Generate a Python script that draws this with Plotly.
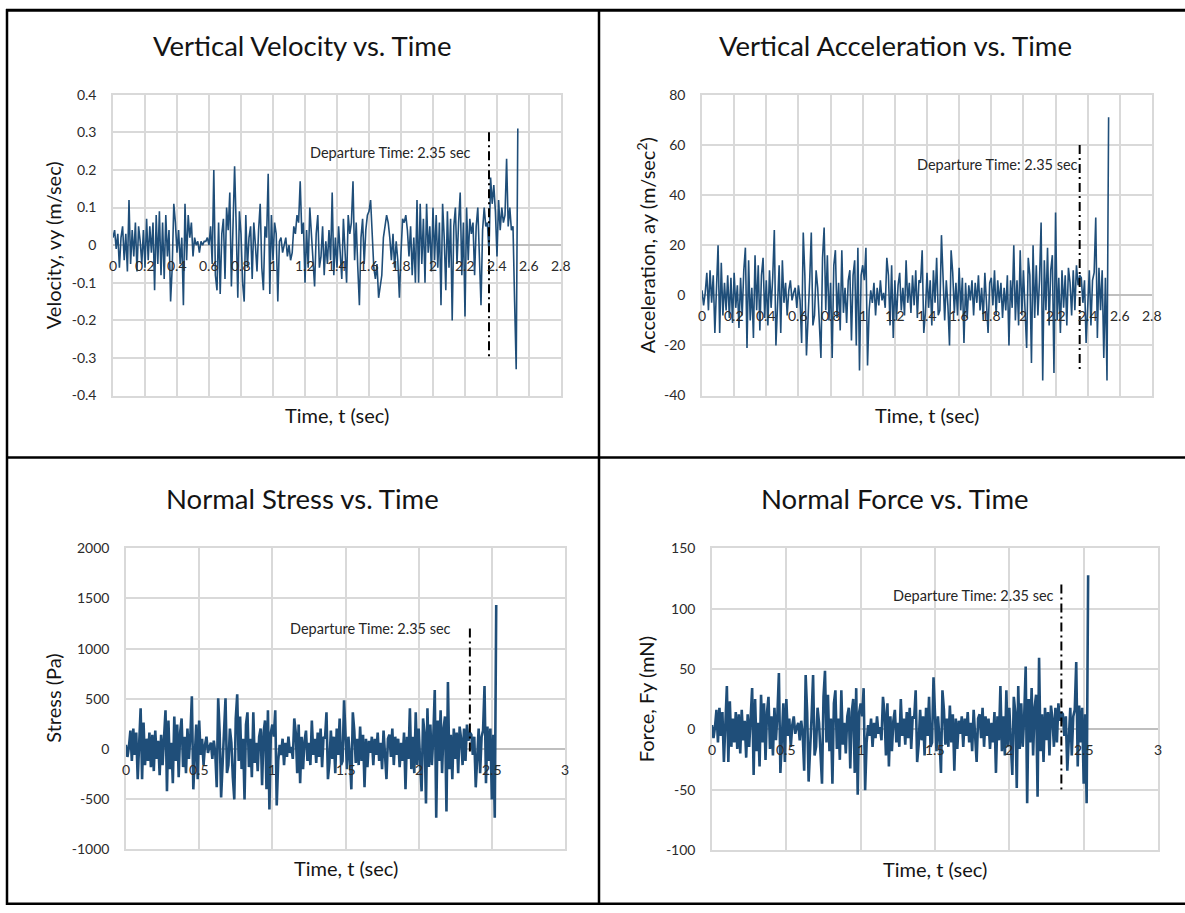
import plotly.graph_objects as go

W, H = 1185, 913

# ---------------------------------------------------------------- data
SAMPLE_DT = 0.01          # s between samples
N_SAMPLES = 254
time_s = [round(i * SAMPLE_DT, 2) for i in range(N_SAMPLES)]

# vertical velocity, m/s (one row = 0.1 s)
velocity = [
    0.02, 0.04, -0.01, 0.03, -0.06, 0.02, 0.05, -0.04, 0.03, -0.07,
    0.12, -0.05, 0.04, -0.03, 0.06, -0.07, 0.05, 0.01, -0.05, 0.04,
    -0.06, 0.07, -0.04, 0.05, -0.02, 0.06, -0.12, 0.08, -0.05, 0.09,
    -0.08, 0.06, -0.09, 0.08, -0.03, 0.04, -0.15, -0.06, 0.11, 0.06,
    -0.02, 0.04, -0.05, 0.02, -0.16, 0.11, -0.04, 0.08, 0.02, 0.06,
    -0.03, 0.02, 0.0, 0.01, -0.02, 0.01, 0.0, 0.01, 0.01, 0.02,
    0.0, 0.05, -0.05, 0.20, -0.08, -0.12, 0.06, -0.13, 0.03, 0.07,
    -0.09, 0.10, 0.04, 0.14, -0.11, 0.06, 0.21, 0.05, -0.14, 0.09,
    0.03, -0.10, -0.15, 0.08, -0.06, 0.02, 0.05, -0.09, 0.06, 0.0,
    -0.07, 0.04, 0.11, -0.06, -0.12, 0.05, 0.02, 0.19, -0.13, 0.08,
    -0.04, 0.06, 0.03, -0.15, 0.01, 0.02, -0.02, 0.0, 0.02, -0.03,
    0.0, -0.04, -0.02, 0.05, 0.03, 0.08, 0.06, 0.17, 0.03, 0.06,
    -0.10, 0.04, -0.06, 0.10, 0.02, -0.05, -0.11, 0.03, 0.08, -0.06,
    -0.03, 0.05, -0.08, 0.01, -0.05, 0.04, -0.04, 0.14, -0.08, 0.02,
    -0.06, 0.05, -0.03, -0.09, 0.07, -0.02, -0.10, 0.08, 0.03, 0.06,
    0.17, -0.04, 0.06, -0.06, -0.16, 0.02, 0.07, -0.05, 0.04, 0.08,
    0.09, 0.12, 0.04, -0.06, -0.09, -0.05, -0.14, -0.11, -0.08, 0.02,
    0.05, 0.08, 0.06, 0.02, -0.04, 0.03, -0.06, 0.01, -0.04, -0.14,
    -0.02, 0.07, 0.06, 0.08, 0.04, -0.03, 0.05, -0.08, 0.02, -0.10,
    0.12, -0.10, 0.11, -0.05, 0.07, -0.10, 0.11, -0.02, 0.05, -0.07,
    0.10, -0.04, 0.08, -0.06, 0.06, -0.16, 0.11, 0.02, -0.12, 0.09,
    -0.06, 0.07, -0.20, 0.05, 0.10, -0.05, 0.06, 0.14, -0.08, 0.06,
    -0.19, 0.10, -0.04, 0.07, 0.03, 0.06, -0.08, 0.05, 0.10, -0.06,
    -0.16, 0.04, 0.10, 0.05, 0.06, -0.02, 0.18, 0.11, 0.16, 0.09,
    -0.03, 0.12, 0.04, 0.10, 0.06, 0.08, 0.23, 0.05, 0.10, 0.04,
    0.05, -0.15, -0.33, 0.31,
]

# vertical acceleration, m/s^2
acceleration = [
    2, -4, 1, 9, -6, 10, -3, 8, -15, 7,
    20, -15, 13, -8, 5, -6, 8, -9, 7, -11,
    9, -5, 4, -13, 7, -8, 10, 19, -21, 14,
    -10, 3, -17, 16, -6, 12, -14, 8, 15, -9,
    6, -12, 10, -5, 7, 26, -20, -4, 12, -15,
    14, -3, 5, -8, 2, 6, -2, 1, 3, -5,
    4, -2, -19, 25, 8, -24, -10, 6, 25, -12,
    -8, 10, 3, -14, -25, 15, 27, -6, 16, -10,
    5, -25, 12, 18, -9, 5, -14, 18, -7, 3,
    -11, 6, 10, -18, 8, 14, -20, 19, -30, 8,
    12, 6, 19, -28, -6, 2, -3, 5, -8, 3,
    -4, 6, -2, 1, -5, 15, 8, -12, 12, -17,
    6, -10, 4, 9, -6, 3, -8, 14, -3, 5,
    -7, 8, -4, 10, -9, 6, 5, 18, -15, -7,
    9, -5, 6, -12, 10, -3, 15, -8, -6, 24,
    8, -10, 6, -4, -20, 18, 9, -7, 5, -8,
    11, -6, 7, -19, 5, -9, 4, -2, 6, -8,
    5, -3, 8, -6, 3, -10, 9, -4, -15, 5,
    7, -4, 10, -8, 6, -3, 5, -9, 3, -6,
    8, -20, 6, -5, 20, -10, 6, -12, 18, -8,
    10, -6, -21, 15, 8, -27, 20, -9, 12, -8,
    6, 29, -34, 14, -6, 19, -12, 10, 16, -31,
    33, -10, 7, -15, 10, -5, 8, -12, 11, 5,
    -8, 10, -6, 12, 4, 8, 7, -3, 6, -19,
    -5, 10, -12, 6, 9, 31, -17, 11, -6, 10,
    -25, 7, -34, 71,
]

# normal stress, Pa
stress = [
    40, -81, 20, 182, -121, 202, -61, 162, -303, 141,
    404, -303, 263, -162, 101, -121, 162, -182, 141, -222,
    182, -101, 81, -263, 141, -162, 202, 384, -424, 283,
    -202, 61, -343, 323, -121, 242, -283, 162, 303, -182,
    121, -242, 202, -101, 141, 525, -404, -81, 242, -303,
    283, -61, 101, -162, 40, 121, -40, 20, 61, -101,
    81, -40, -384, 505, 162, -485, -202, 121, 505, -242,
    -162, 202, 61, -283, -505, 303, 545, -121, 323, -202,
    101, -505, 242, 364, -182, 101, -283, 364, -141, 61,
    -222, 121, 202, -364, 162, 283, -404, 384, -606, 162,
    242, 121, 384, -566, -121, 40, -61, 101, -162, 61,
    -81, 121, -40, 20, -101, 303, 162, -242, 242, -343,
    121, -202, 81, 182, -121, 61, -162, 283, -61, 101,
    -141, 162, -81, 202, -182, 121, 101, 364, -303, -141,
    182, -101, 121, -242, 202, -61, 303, -162, -121, 485,
    162, -202, 121, -81, -404, 364, 182, -141, 101, -162,
    222, -121, 141, -384, 101, -182, 81, -40, 121, -162,
    101, -61, 162, -121, 61, -202, 182, -81, -303, 101,
    141, -81, 202, -162, 121, -61, 101, -182, 61, -121,
    162, -404, 121, -101, 404, -202, 121, -242, 364, -162,
    202, -121, -424, 303, 162, -545, 404, -182, 242, -162,
    121, 586, -687, 283, -121, 384, -242, 202, 323, -626,
    667, -202, 141, -303, 202, -101, 162, -242, 222, 101,
    -162, 202, -121, 242, 81, 162, 141, -61, 121, -384,
    -101, 202, -242, 121, 182, 626, -343, 222, -121, 202,
    -505, 141, -687, 1434,
]

# normal force, mN
force = [
    3.6, -7.2, 1.8, 16.2, -10.8, 18, -5.4, 14.4, -27, 12.6,
    36, -27, 23.4, -14.4, 9, -10.8, 14.4, -16.2, 12.6, -19.8,
    16.2, -9, 7.2, -23.4, 12.6, -14.4, 18, 34.2, -37.8, 25.2,
    -18, 5.4, -30.6, 28.8, -10.8, 21.6, -25.2, 14.4, 27, -16.2,
    10.8, -21.6, 18, -9, 12.6, 46.8, -36, -7.2, 21.6, -27,
    25.2, -5.4, 9, -14.4, 3.6, 10.8, -3.6, 1.8, 5.4, -9,
    7.2, -3.6, -34.2, 45, 14.4, -43.2, -18, 10.8, 45, -21.6,
    -14.4, 18, 5.4, -25.2, -45, 27, 48.6, -10.8, 28.8, -18,
    9, -45, 21.6, 32.4, -16.2, 9, -25.2, 32.4, -12.6, 5.4,
    -19.8, 10.8, 18, -32.4, 14.4, 25.2, -36, 34.2, -54, 14.4,
    21.6, 10.8, 34.2, -50.4, -10.8, 3.6, -5.4, 9, -14.4, 5.4,
    -7.2, 10.8, -3.6, 1.8, -9, 27, 14.4, -21.6, 21.6, -30.6,
    10.8, -18, 7.2, 16.2, -10.8, 5.4, -14.4, 25.2, -5.4, 9,
    -12.6, 14.4, -7.2, 18, -16.2, 10.8, 9, 32.4, -27, -12.6,
    16.2, -9, 10.8, -21.6, 18, -5.4, 27, -14.4, -10.8, 43.2,
    14.4, -18, 10.8, -7.2, -36, 32.4, 16.2, -12.6, 9, -14.4,
    19.8, -10.8, 12.6, -34.2, 9, -16.2, 7.2, -3.6, 10.8, -14.4,
    9, -5.4, 14.4, -10.8, 5.4, -18, 16.2, -7.2, -27, 9,
    12.6, -7.2, 18, -14.4, 10.8, -5.4, 9, -16.2, 5.4, -10.8,
    14.4, -36, 10.8, -9, 36, -18, 10.8, -21.6, 32.4, -14.4,
    18, -10.8, -37.8, 27, 14.4, -48.6, 36, -16.2, 21.6, -14.4,
    10.8, 52.2, -61.2, 25.2, -10.8, 34.2, -21.6, 18, 28.8, -55.8,
    59.4, -18, 12.6, -27, 18, -9, 14.4, -21.6, 19.8, 9,
    -14.4, 18, -10.8, 21.6, 7.2, 14.4, 12.6, -5.4, 10.8, -34.2,
    -9, 18, -21.6, 10.8, 16.2, 55.8, -30.6, 19.8, -10.8, 18,
    -45, 12.6, -61.2, 127.8,
]

departure_time = 2.35
departure_label = "Departure Time: 2.35 sec"

# extent of the departure marker on each chart
departure_velocity = [0.3, -0.3]
departure_acceleration = [60, -30]
departure_stress = [1200, -50]
departure_force = [120, -50]

velocity_yticks = [-0.4, -0.3, -0.2, -0.1, 0, 0.1, 0.2, 0.3, 0.4]
acceleration_yticks = [-40, -20, 0, 20, 40, 60, 80]
stress_yticks = [-1000, -500, 0, 500, 1000, 1500, 2000]
force_yticks = [-100, -50, 0, 50, 100, 150]
fine_xticks = [0, 0.2, 0.4, 0.6, 0.8, 1, 1.2, 1.4, 1.6, 1.8, 2, 2.2, 2.4, 2.6, 2.8]
coarse_xticks = [0, 0.5, 1, 1.5, 2, 2.5, 3]

# ---------------------------------------------------------------- style
FONT = "Lato, 'Open Sans', sans-serif"
SERIES_COLOR = "#1F4E79"
GRID = "#D9D9D9"
AXIS0 = "#BFBFBF"
TICK_COLOR = "#2B2B2B"
TEXT = "#141414"


def fmt(v):
    return ("%g" % v).replace("\u2212", "-")


# Layout positions are in figure pixels: plot box (left, right, top, bottom),
# title centre, x-title centre height and y-title centre.
panels = [
    dict(title="Vertical Velocity vs. Time", ytitle="Velocity, vy (m/sec)",
         y=velocity, lw=1.6, yticks=velocity_yticks, xticks=fine_xticks,
         dep=departure_velocity, box=(113, 561, 87.4, 393.9),
         title_xy=(302, 37.6), xtitle_y=413.2, ytitle_x=53,
         label_xy=(2.25, 0.247)),
    dict(title="Vertical Acceleration vs. Time",
         ytitle="Acceleration, ay (m/sec<sup>2</sup>)",
         y=acceleration, lw=1.6, yticks=acceleration_yticks, xticks=fine_xticks,
         dep=departure_acceleration, box=(702, 1152, 87.4, 393.9),
         title_xy=(895, 37.6), xtitle_y=413.2, ytitle_x=646,
         label_xy=(2.352, 52)),
    dict(title="Normal Stress vs. Time", ytitle="Stress (Pa)",
         y=stress, lw=2.6, yticks=stress_yticks, xticks=coarse_xticks,
         dep=departure_stress, box=(126, 565, 549.6, 856.0),
         title_xy=(303, 498.7), xtitle_y=875.4, ytitle_x=53,
         label_xy=(2.238, 1200)),
    dict(title="Normal Force vs. Time", ytitle="Force, Fy (mN)",
         y=force, lw=2.6, yticks=force_yticks, xticks=coarse_xticks,
         dep=departure_force, box=(712, 1158, 549.6, 857.1),
         title_xy=(895, 498.7), xtitle_y=876.4, ytitle_x=646,
         label_xy=(2.313, 111)),
]

fig = go.Figure()
annotations = []
layout = {}

for i, p in enumerate(panels, start=1):
    xa = "x" if i == 1 else f"x{i}"
    ya = "y" if i == 1 else f"y{i}"
    x0, x1, y0, y1 = p["box"]

    fig.add_trace(go.Scatter(
        x=time_s, y=p["y"], mode="lines", xaxis=xa, yaxis=ya,
        line=dict(color=SERIES_COLOR, width=p["lw"]),
        showlegend=False, hoverinfo="skip"))

    fig.add_trace(go.Scatter(
        x=[departure_time, departure_time], y=p["dep"], mode="lines",
        xaxis=xa, yaxis=ya,
        line=dict(color="black", width=2, dash="9px,4px,2px,4px"),
        showlegend=False, hoverinfo="skip"))

    xt, yt = p["xticks"], p["yticks"]
    layout["xaxis" if i == 1 else f"xaxis{i}"] = dict(
        domain=[x0 / W, x1 / W], anchor=ya, range=[xt[0], xt[-1]],
        tickvals=xt, showticklabels=False, showgrid=True, gridcolor=GRID,
        gridwidth=1.5, zeroline=False, showline=True, linecolor=GRID,
        linewidth=1.5, mirror=True, ticks="", fixedrange=True)
    layout["yaxis" if i == 1 else f"yaxis{i}"] = dict(
        domain=[1 - y1 / H, 1 - y0 / H], anchor=xa, range=[yt[0], yt[-1]],
        tickvals=yt, ticktext=[fmt(v) for v in yt], showgrid=True,
        gridcolor=GRID, gridwidth=1.5, zeroline=True, zerolinecolor=AXIS0,
        zerolinewidth=1.5, showline=True, linecolor=GRID, linewidth=1.5,
        mirror=True, ticks="", ticklabelstandoff=12,
        tickfont=dict(family=FONT, size=14, color=TICK_COLOR), fixedrange=True)

    # horizontal-axis labels sit just under the zero line
    for v in xt:
        annotations.append(dict(
            x=v, y=0, xref=xa, yref=ya, text=fmt(v), showarrow=False,
            yshift=-20.5, font=dict(family=FONT, size=14, color=TICK_COLOR)))

    annotations.append(dict(
        x=p["label_xy"][0], y=p["label_xy"][1], xref=xa, yref=ya,
        text=departure_label, showarrow=False, xanchor="right",
        yanchor="middle", font=dict(family=FONT, size=14.5, color="#262626")))

    annotations.append(dict(
        x=p["title_xy"][0] / W, y=1 - p["title_xy"][1] / H, xref="paper",
        yref="paper", text=p["title"], showarrow=False, xanchor="center",
        yanchor="middle", font=dict(family=FONT, size=27.5, color=TEXT)))
    annotations.append(dict(
        x=(x0 + x1) / 2 / W, y=1 - p["xtitle_y"] / H, xref="paper",
        yref="paper", text="Time, t (sec)", showarrow=False, xanchor="center",
        yanchor="middle", font=dict(family=FONT, size=20, color=TEXT)))
    annotations.append(dict(
        x=p["ytitle_x"] / W, y=1 - (y0 + y1) / 2 / H, xref="paper",
        yref="paper", text=p["ytitle"], showarrow=False, textangle=-90,
        xanchor="center", yanchor="middle",
        font=dict(family=FONT, size=20, color=TEXT)))


# panel frames
def hline(y, xa, xb, w=2.5):
    return dict(type="line", xref="paper", yref="paper", x0=xa / W, x1=xb / W,
                y0=1 - y / H, y1=1 - y / H, line=dict(color="black", width=w))


def vline(x, ya, yb, w=2.5):
    return dict(type="line", xref="paper", yref="paper", x0=x / W, x1=x / W,
                y0=1 - ya / H, y1=1 - yb / H, line=dict(color="black", width=w))


shapes = [
    hline(1.3, 6, W, 3), hline(457, 6, W), hline(911.8, 6, W, 2.5),
    vline(7, 0, H), vline(599, 0, H),
]

fig.update_layout(
    width=W, height=H, margin=dict(l=0, r=0, t=0, b=0),
    paper_bgcolor="white", plot_bgcolor="white",
    annotations=annotations, shapes=shapes, **layout)

fig.write_html("out.html", config={"displayModeBar": False})
